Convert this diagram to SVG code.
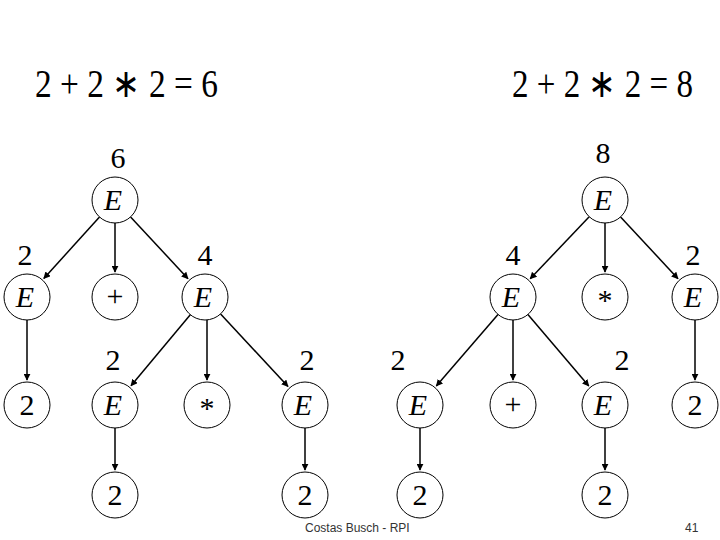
<svg xmlns="http://www.w3.org/2000/svg" width="720" height="540" viewBox="0 0 720 540">
<style>
.n circle{fill:#fff;stroke:#000;stroke-width:1}
.t{font-family:"Liberation Serif",serif;font-size:30px;text-anchor:middle}
.e{font-style:italic}
.eq{font-family:"Liberation Serif",serif;font-size:40px}
.f{font-family:"Liberation Sans",sans-serif;font-size:12px;fill:#333}
#c line{stroke:#000;stroke-width:1.5;marker-end:url(#a)}
</style>
<defs><marker id="a" viewBox="0 0 10 10" refX="9" refY="5" markerWidth="7" markerHeight="7" orient="auto" markerUnits="userSpaceOnUse"><path d="M0,0L10,5L0,10z"/></marker></defs>
<rect width="720" height="540" fill="#fff"/>
<text class="eq" x="35" y="97" textLength="183" lengthAdjust="spacingAndGlyphs">2 + 2 ∗ 2 = 6</text>
<text class="eq" x="512" y="97" textLength="181" lengthAdjust="spacingAndGlyphs">2 + 2 ∗ 2 = 8</text>
<g id="c">
<line x1="99.5" y1="217" x2="43.8" y2="278.5"/>
<line x1="115" y1="223" x2="115" y2="272"/>
<line x1="130.6" y1="216.9" x2="188" y2="278.7"/>
<line x1="27" y1="320" x2="27" y2="380"/>
<line x1="190.3" y1="314.7" x2="131" y2="385.8"/>
<line x1="207" y1="320" x2="207" y2="380"/>
<line x1="220.6" y1="313.9" x2="288" y2="386.6"/>
<line x1="115" y1="428" x2="115" y2="470"/>
<line x1="305" y1="428" x2="305" y2="470"/>
<line x1="589.2" y1="216.7" x2="530.2" y2="278.8"/>
<line x1="605" y1="223" x2="605" y2="272"/>
<line x1="620.6" y1="216.9" x2="678" y2="278.7"/>
<line x1="498" y1="314.4" x2="436.3" y2="386"/>
<line x1="513" y1="320" x2="513" y2="380"/>
<line x1="527.9" y1="314.5" x2="588.8" y2="386"/>
<line x1="695" y1="320" x2="695" y2="380"/>
<line x1="420" y1="428" x2="420" y2="470"/>
<line x1="605" y1="428" x2="605" y2="470"/>
</g>
<g id="n1" class="n"><circle cx="115" cy="200" r="23"/><text class="t e" x="113" y="210">E</text><text class="t" x="118" y="168">6</text></g>
<g id="n2" class="n"><circle cx="27" cy="297" r="23"/><text class="t e" x="25" y="307">E</text><text class="t" x="25" y="265">2</text></g>
<g id="n3" class="n"><circle cx="115" cy="297" r="23"/><text class="t" x="115" y="306">+</text></g>
<g id="n4" class="n"><circle cx="205" cy="297" r="23"/><text class="t e" x="203" y="307">E</text><text class="t" x="205" y="265">4</text></g>
<g id="n5" class="n"><circle cx="27" cy="405" r="23"/><text class="t" x="27" y="415">2</text></g>
<g id="n6" class="n"><circle cx="115" cy="405" r="23"/><text class="t e" x="113" y="415">E</text><text class="t" x="113" y="370">2</text></g>
<g id="n7" class="n"><circle cx="207" cy="405" r="23"/><text class="t" x="207" y="418">*</text></g>
<g id="n8" class="n"><circle cx="305" cy="405" r="23"/><text class="t e" x="303" y="415">E</text><text class="t" x="307" y="370">2</text></g>
<g id="n9" class="n"><circle cx="115" cy="495" r="23"/><text class="t" x="115" y="505">2</text></g>
<g id="n10" class="n"><circle cx="305" cy="495" r="23"/><text class="t" x="305" y="505">2</text></g>
<g id="m1" class="n"><circle cx="605" cy="200" r="23"/><text class="t e" x="603" y="210">E</text><text class="t" x="603" y="163">8</text></g>
<g id="m2" class="n"><circle cx="513" cy="297" r="23"/><text class="t e" x="511" y="307">E</text><text class="t" x="513" y="265">4</text></g>
<g id="m3" class="n"><circle cx="605" cy="297" r="23"/><text class="t" x="605" y="310">*</text></g>
<g id="m4" class="n"><circle cx="695" cy="297" r="23"/><text class="t e" x="693" y="307">E</text><text class="t" x="693" y="265">2</text></g>
<g id="m5" class="n"><circle cx="420" cy="405" r="23"/><text class="t e" x="418" y="415">E</text><text class="t" x="398" y="370">2</text></g>
<g id="m6" class="n"><circle cx="513" cy="405" r="23"/><text class="t" x="513" y="414">+</text></g>
<g id="m7" class="n"><circle cx="605" cy="405" r="23"/><text class="t e" x="603" y="415">E</text><text class="t" x="622" y="370">2</text></g>
<g id="m8" class="n"><circle cx="695" cy="405" r="23"/><text class="t" x="695" y="415">2</text></g>
<g id="m9" class="n"><circle cx="420" cy="495" r="23"/><text class="t" x="420" y="505">2</text></g>
<g id="m10" class="n"><circle cx="605" cy="495" r="23"/><text class="t" x="605" y="505">2</text></g>
<text class="f" x="305" y="532">Costas Busch - RPI</text>
<text class="f" x="685" y="532">41</text>
</svg>
